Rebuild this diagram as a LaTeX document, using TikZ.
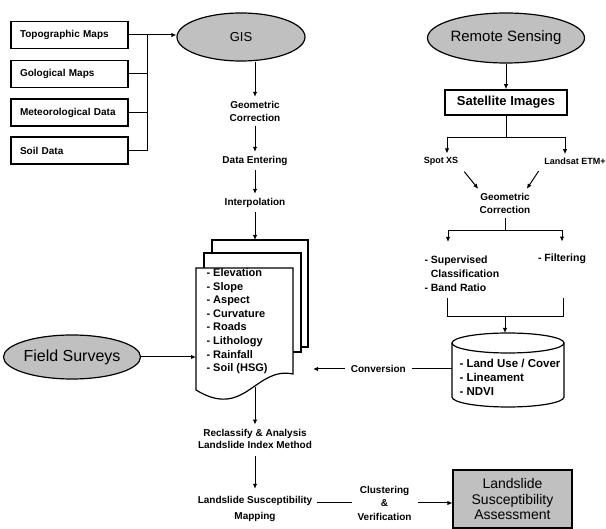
\documentclass[tikz,border=0pt]{standalone}
\usepackage{fontspec}
\setmainfont{Liberation Sans}
\usetikzlibrary{arrows.meta,shapes.geometric}

\definecolor{ovalgray}{RGB}{192,192,192}

\tikzset{
  arr/.style={-{Latex[length=5pt,width=4.5pt]}},
  srcbox/.style={draw,line width=1.5pt,text width=99pt,align=left,inner sep=9pt,
    minimum height=27pt,font=\bfseries\fontsize{10}{12}\selectfont},
  imgbox/.style={draw,line width=1.5pt,minimum width=122pt,minimum height=25pt,
    inner sep=2pt,font=\bfseries\fontsize{13}{15}\selectfont},
  resbox/.style={draw,fill=ovalgray,line width=1.2pt,minimum width=119pt,minimum height=58pt,
    inner sep=2pt,align=center,font=\fontsize{14}{15.5}\selectfont},
  oval/.style={ellipse,draw,fill=ovalgray,line width=1.2pt,inner sep=0pt},
  lbl/.style={align=center,inner sep=4pt,font=\bfseries\fontsize{10}{13}\selectfont},
  small/.style={inner sep=3pt,font=\bfseries\fontsize{9}{11}\selectfont},
  items/.style={align=left,inner sep=2pt,anchor=north west},
  page/.style={draw,fill=white,line width=1.2pt},
}

\begin{document}
\begin{tikzpicture}[x=1pt,y=-1pt,line width=1pt]
    \useasboundingbox (0,0) rectangle (606,529);
    %\draw[help lines,step=50] (0,0) grid (606,529);

    % sources
    \node[srcbox] (topo) at (69.5,35) {Topographic Maps};
    \node[srcbox] (geol) at (69.5,74) {Gological Maps};
    \node[srcbox] (meteo) at (69.5,112.5) {Meteorological Data};
    \node[srcbox] (soil) at (69.5,150.5) {Soil Data};
    \node[oval,minimum width=128pt,minimum height=48pt,font=\fontsize{13}{15}\selectfont] (gis) at (241,37) {GIS};

    \coordinate (bus) at (147,35);
    \draw[arr] (topo.east) -- (topo.east -| gis.west);
    \draw (geol.east) -- (geol.east -| bus);
    \draw (meteo.east) -- (meteo.east -| bus);
    \draw (soil.east) -| (bus);

    % GIS branch
    \node[lbl] (geocor) at (255,111.5) {Geometric\\Correction};
    \node[lbl] (dataent) at (255,161) {Data Entering};
    \node[lbl] (interp) at (255,203) {Interpolation};
    \coordinate (stacktop) at (255,240);
    \draw[arr] (gis.south -| geocor) -- (geocor);
    \draw[arr] (geocor) -- (dataent);
    \draw[arr] (dataent) -- (interp);
    \draw[arr] (interp) -- (stacktop);

    \draw[page] (212,240) rectangle (308,347);
    \draw[page] (204,253) rectangle (301,352);
    \draw[page] (196,268) -- (293,268) -- (293,374) .. controls (255,366) and (245,420) .. (196,390) -- cycle;
    \node[items,font=\bfseries\fontsize{11}{13.6}\selectfont] (layers) at (204,266)
      {- Elevation\\- Slope\\- Aspect\\- Curvature\\- Roads\\- Lithology\\- Rainfall\\- Soil (HSG)};

    \node[oval,minimum width=121pt,minimum height=44pt,font=\fontsize{16}{18}\selectfont] (field) at (72,357) {Field Surveys};
    \coordinate (stackL) at (196,357);
    \draw[arr] (field.east) -- (stackL);

    \coordinate (stackbot) at (255,387);
    \node[lbl,font=\bfseries\fontsize{10}{12.5}\selectfont] (reclass) at (255,439) {Reclassify \& Analysis\\Landslide Index Method};
    \node[lbl,font=\bfseries\fontsize{10}{16}\selectfont] (mapping) at (255,509) {Landslide Susceptibility\\Mapping};
    \draw[arr] (stackbot) -- (reclass);
    \draw[arr,shorten <=3pt,shorten >=3pt] (reclass) -- (mapping);

    \node[resbox] (assess) at (512.5,499) {Landslide\\Susceptibility\\Assessment};
    \draw[arr] ([yshift=6pt]mapping.east) -- node[lbl,fill=white,inner sep=6pt,font=\bfseries\fontsize{10}{13.5}\selectfont]
      {Clustering\\\&\\Verification} ([yshift=6pt]mapping.east -| assess.west);

    % remote sensing branch
    \node[oval,minimum width=157pt,minimum height=50pt,font=\fontsize{15}{18}\selectfont] (rs) at (506,38) {Remote Sensing};
    \node[imgbox] (sat) at (506,102.5) {Satellite Images};
    \draw[arr] (rs) -- (sat);

    \node[small] (spot) at (441,161) {Spot XS};
    \node[small] (landsat) at (575,161) {Landsat ETM+};
    \draw[arr] (sat.south) -- ++(0,22) -| ([xshift=6pt]spot.north);
    \draw[arr] (sat.south) -- ++(0,22) -| ([xshift=-10pt]landsat.north);

    \node[lbl] (geocor2) at (505,203.5) {Geometric\\Correction};
    \draw[arr,shorten <=4pt] (spot.south east) -- ([xshift=3pt]geocor2.north west);
    \draw[arr,shorten <=4pt] (landsat.south west) -- ([xshift=-8pt]geocor2.north east);

    \node[lbl,align=left,anchor=north west,font=\bfseries\fontsize{10.5}{14}\selectfont] (supv) at (420,251)
      {- Supervised\\\phantom{- }Classification\\- Band Ratio};
    \node[lbl,font=\bfseries\fontsize{10.5}{14}\selectfont] (filt) at (562,259) {- Filtering};
    \draw[arr] (geocor2.south) -- ++(0,12) -| ([xshift=28pt,yshift=9pt]supv.north west);
    \draw[arr] (geocor2.south) -- ++(0,12) -| ([yshift=8pt]filt.north);

    \coordinate (mergeL) at (447,298);
    \coordinate (mergeR) at (563,298);
    \coordinate (mergeM) at (505,317);
    \coordinate (dbtop) at (505,333);
    \draw (mergeL) -- ++(0,19) -| (mergeR);
    \draw[arr] (mergeM) -- (dbtop);

    % land cover data
    \draw[page] (452,343) -- (452,397) arc[start angle=180,end angle=360,x radius=56pt,y radius=10pt] -- (564,343);
    \draw[page] (508,343) ellipse [x radius=56pt,y radius=10pt];
    \node[items,font=\bfseries\fontsize{11.5}{14}\selectfont] (dblist) at (457,356.5)
      {- Land Use / Cover\\- Lineament\\- NDVI};

    \coordinate (dbleft) at (452,369);
    \coordinate (stackR) at (313,369);
    \draw[arr] (dbleft) -- node[lbl,fill=white,inner sep=6pt,pos=0.53] (conv) {Conversion} (stackR);
\end{tikzpicture}
\end{document}
